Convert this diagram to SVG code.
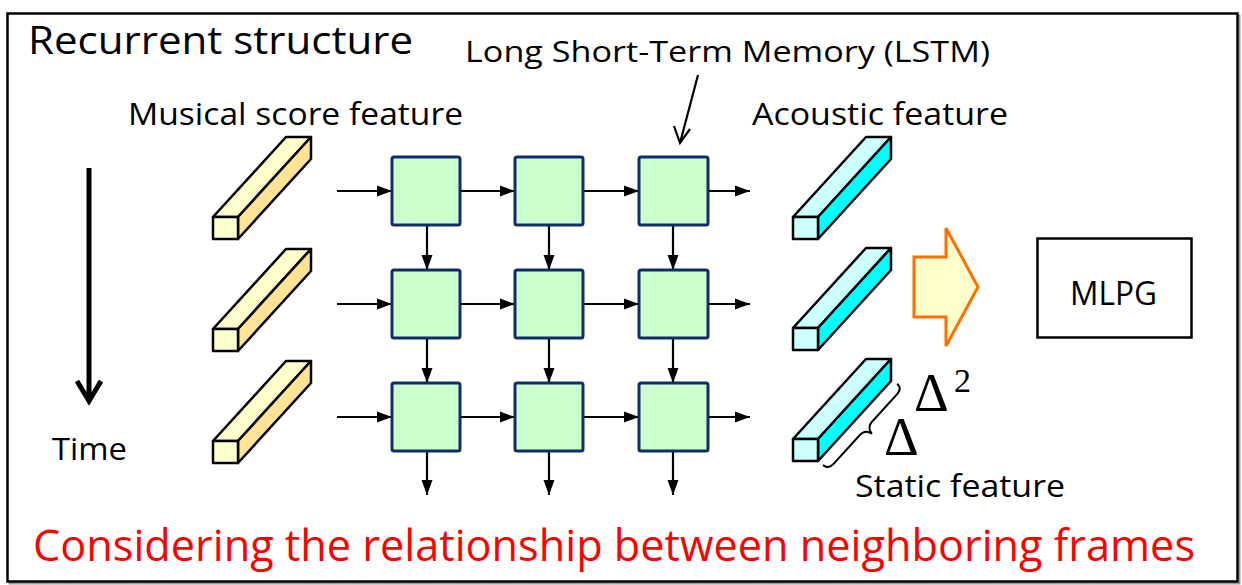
<svg xmlns="http://www.w3.org/2000/svg" width="1242" height="585" viewBox="0 0 1242 585">
  <style>
    .lbl { font-family: "Open Sans", "Noto Sans", sans-serif; fill: #000; }
    .cell { fill: #CCFFCC; stroke: #0F2D69; stroke-width: 3; }
    .flow { stroke: #000; stroke-width: 2.2; fill: none; marker-end: url(#tri); }
    .bar { stroke: #000; stroke-width: 2.5; stroke-linejoin: round; }
    .yf { fill: #FFFFCC; }
    .cf { fill: #CCFFFF; }
    .cs { fill: #00FFFF; }
    .greek { font-family: "Liberation Serif", "DejaVu Serif", serif; fill: #000; }
  </style>
  <defs>
    <marker id="tri" markerUnits="userSpaceOnUse" markerWidth="16" markerHeight="12" refX="15" refY="6" orient="auto">
      <path d="M0,0.5 L15,6 L0,11.5 Z" fill="#000"/>
    </marker>
    <linearGradient id="ygrad" x1="0" y1="0" x2="1" y2="1">
      <stop offset="0" stop-color="#FFEFB0"/>
      <stop offset="1" stop-color="#FFD97A"/>
    </linearGradient>
  </defs>

  <rect width="1242" height="585" fill="#fff"/>
  <!-- outer frame with light drop shadow -->
  <rect x="9.5" y="15.5" width="1230" height="568" fill="none" stroke="#9a9a9a" stroke-width="2"/>
  <rect x="7.5" y="13.5" width="1230" height="568" fill="#fff" stroke="#000" stroke-width="2.5"/>

  <text class="lbl" x="28" y="54" font-size="38" textLength="385" lengthAdjust="spacingAndGlyphs">Recurrent structure</text>
  <text class="lbl" x="465" y="62" font-size="30" textLength="525" lengthAdjust="spacingAndGlyphs">Long Short-Term Memory (LSTM)</text>
  <text class="lbl" x="128" y="125" font-size="31" textLength="335" lengthAdjust="spacingAndGlyphs">Musical score feature</text>
  <text class="lbl" x="752" y="125" font-size="31" textLength="256" lengthAdjust="spacingAndGlyphs">Acoustic feature</text>

  <!-- time axis -->
  <g id="time">
    <line x1="89" y1="168" x2="89" y2="400" stroke="#000" stroke-width="5"/>
    <polyline points="77,381 89,401 101,381" fill="none" stroke="#000" stroke-width="5" stroke-linejoin="miter"/>
    <text class="lbl" x="52" y="460" font-size="31" textLength="75" lengthAdjust="spacingAndGlyphs">Time</text>
  </g>

  <!-- input feature bars (musical score) -->
  <g id="score-bars" class="bar">
    <g id="score-1">
      <polygon class="yf" points="213,217 286,137 311,137 238,217"/>
      <polygon fill="url(#ygrad)" points="238,217 311,137 311,159 238,239"/>
      <rect class="yf" x="213" y="217" width="25" height="22"/>
    </g>
    <g id="score-2" transform="translate(0,112)">
      <polygon class="yf" points="213,217 286,137 311,137 238,217"/>
      <polygon fill="url(#ygrad)" points="238,217 311,137 311,159 238,239"/>
      <rect class="yf" x="213" y="217" width="25" height="22"/>
    </g>
    <g id="score-3" transform="translate(0,224)">
      <polygon class="yf" points="213,217 286,137 311,137 238,217"/>
      <polygon fill="url(#ygrad)" points="238,217 311,137 311,159 238,239"/>
      <rect class="yf" x="213" y="217" width="25" height="22"/>
    </g>
  </g>

  <!-- output feature bars (acoustic) -->
  <g id="acoustic-bars" class="bar">
    <g id="acoustic-1">
      <polygon class="cf" points="793,217 866,137 891,137 818,217"/>
      <polygon class="cs" points="818,217 891,137 891,159 818,239"/>
      <rect class="cf" x="793" y="217" width="25" height="22"/>
    </g>
    <g id="acoustic-2" transform="translate(0,111)">
      <polygon class="cf" points="793,217 866,137 891,137 818,217"/>
      <polygon class="cs" points="818,217 891,137 891,159 818,239"/>
      <rect class="cf" x="793" y="217" width="25" height="22"/>
    </g>
    <g id="acoustic-3" transform="translate(0,222)">
      <polygon class="cf" points="793,217 866,137 891,137 818,217"/>
      <polygon class="cs" points="818,217 891,137 891,159 818,239"/>
      <rect class="cf" x="793" y="217" width="25" height="22"/>
    </g>
  </g>

  <!-- brace and delta labels on the last acoustic bar -->
  <g id="deltas">
    <path transform="translate(823,465) rotate(-47.6)" d="M0,0 C0,5 3,7 8,7 L47,7 C52,7 55,9 56,15 C57,9 60,7 65,7 L102,7 C107,7 110,5 110,0" fill="none" stroke="#000" stroke-width="2"/>
    <text class="greek" x="914" y="411" font-size="54">Δ</text>
    <text class="greek" x="954" y="392" font-size="34">2</text>
    <text class="greek" x="884" y="455" font-size="54">Δ</text>
    <text class="lbl" x="855" y="497" font-size="31" textLength="210" lengthAdjust="spacingAndGlyphs">Static feature</text>
  </g>

  <!-- connectors -->
  <g id="connectors">
    <!-- row 1 -->
    <line class="flow" x1="337" y1="191" x2="392" y2="191"/>
    <line class="flow" x1="460" y1="191" x2="515" y2="191"/>
    <line class="flow" x1="583" y1="191" x2="639" y2="191"/>
    <line class="flow" x1="708" y1="191" x2="750" y2="191"/>
    <!-- row 2 -->
    <line class="flow" x1="337" y1="304" x2="392" y2="304"/>
    <line class="flow" x1="460" y1="304" x2="515" y2="304"/>
    <line class="flow" x1="583" y1="304" x2="639" y2="304"/>
    <line class="flow" x1="708" y1="304" x2="750" y2="304"/>
    <!-- row 3 -->
    <line class="flow" x1="337" y1="417" x2="392" y2="417"/>
    <line class="flow" x1="460" y1="417" x2="515" y2="417"/>
    <line class="flow" x1="583" y1="417" x2="639" y2="417"/>
    <line class="flow" x1="708" y1="417" x2="750" y2="417"/>
    <!-- columns -->
    <line class="flow" x1="427" y1="226" x2="427" y2="270"/>
    <line class="flow" x1="427" y1="339" x2="427" y2="383"/>
    <line class="flow" x1="427" y1="452" x2="427" y2="495"/>
    <line class="flow" x1="549" y1="226" x2="549" y2="270"/>
    <line class="flow" x1="549" y1="339" x2="549" y2="383"/>
    <line class="flow" x1="549" y1="452" x2="549" y2="495"/>
    <line class="flow" x1="673" y1="226" x2="673" y2="270"/>
    <line class="flow" x1="673" y1="339" x2="673" y2="383"/>
    <line class="flow" x1="673" y1="452" x2="673" y2="495"/>
    <!-- pointer to an LSTM cell -->
    <line x1="698" y1="75" x2="680" y2="143" stroke="#000" stroke-width="2.2"/>
    <polyline points="674,126 680,143 690,129" fill="none" stroke="#000" stroke-width="2.2"/>
  </g>

  <!-- LSTM cells -->
  <g id="cells">
    <rect id="cell-1-1" class="cell" x="392" y="157" width="68" height="68" rx="2"/>
    <rect id="cell-1-2" class="cell" x="515" y="157" width="68" height="68" rx="2"/>
    <rect id="cell-1-3" class="cell" x="639" y="157" width="69" height="68" rx="2"/>
    <rect id="cell-2-1" class="cell" x="392" y="270" width="68" height="68" rx="2"/>
    <rect id="cell-2-2" class="cell" x="515" y="270" width="68" height="68" rx="2"/>
    <rect id="cell-2-3" class="cell" x="639" y="270" width="69" height="68" rx="2"/>
    <rect id="cell-3-1" class="cell" x="392" y="383" width="68" height="68" rx="2"/>
    <rect id="cell-3-2" class="cell" x="515" y="383" width="68" height="68" rx="2"/>
    <rect id="cell-3-3" class="cell" x="639" y="383" width="69" height="68" rx="2"/>
  </g>

  <!-- block arrow into parameter generation -->
  <g id="block-arrow">
    <polygon points="914,257 946,257 946,228 978,287 946,346 946,317 914,317" fill="#FFFFCC" stroke="#FF7000" stroke-width="3" stroke-linejoin="miter"/>
  </g>

  <g id="mlpg">
    <rect x="1037.5" y="238.5" width="154" height="99" fill="#fff" stroke="#000" stroke-width="2.5"/>
    <text class="lbl" x="1070" y="305" font-size="32" textLength="87" lengthAdjust="spacingAndGlyphs">MLPG</text>
  </g>

  <text x="33" y="561" font-family="Open Sans, Noto Sans, sans-serif" font-size="44" fill="#FF0000" textLength="1162" lengthAdjust="spacingAndGlyphs">Considering the relationship between neighboring frames</text>
</svg>
